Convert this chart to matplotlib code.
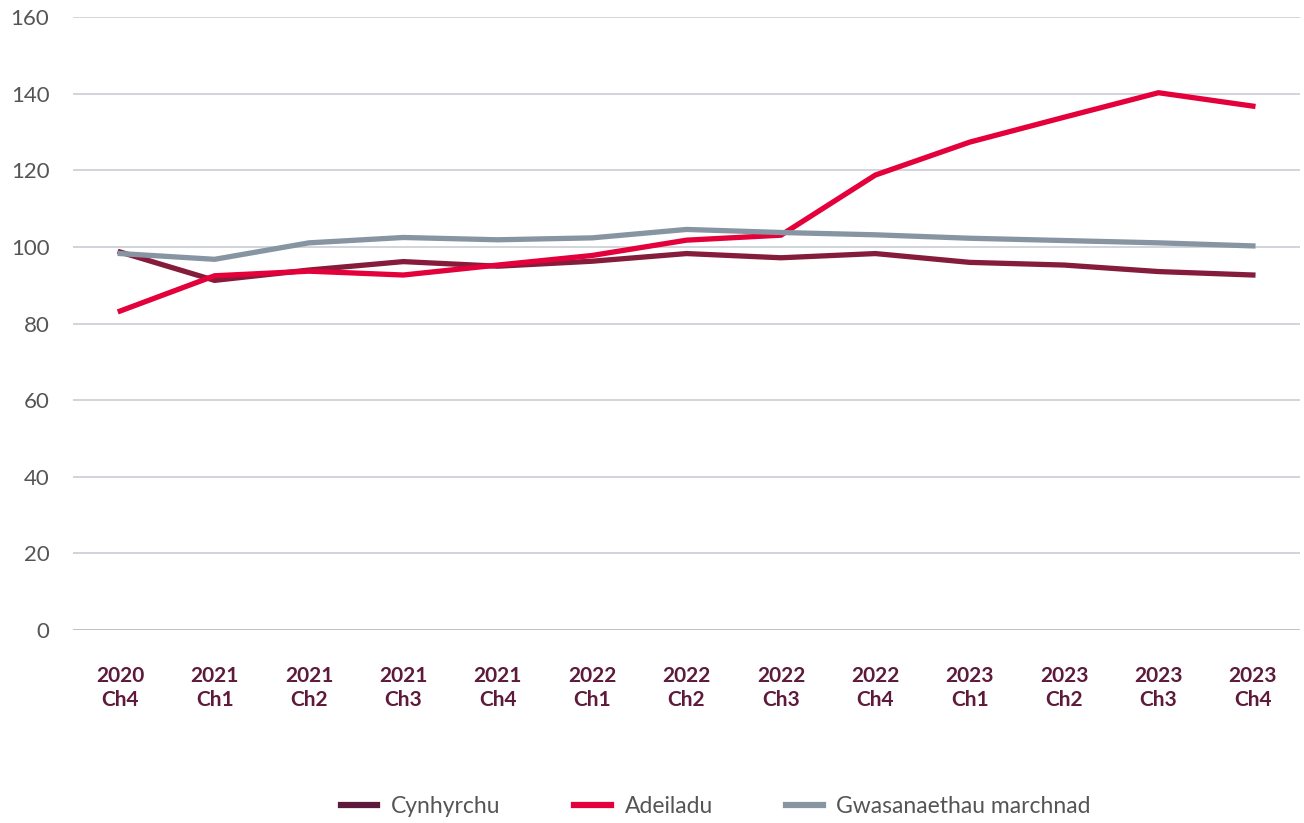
import matplotlib.pyplot as plt
import numpy as np

plt.rcParams['font.family'] = ['Lato', 'DejaVu Sans']

# quarters (Welsh: Ch = chwarter)
quarters = ['2020\nCh4', '2021\nCh1', '2021\nCh2', '2021\nCh3', '2021\nCh4',
            '2022\nCh1', '2022\nCh2', '2022\nCh3', '2022\nCh4',
            '2023\nCh1', '2023\nCh2', '2023\nCh3', '2023\nCh4']

cynhyrchu = [98.7, 91.3, 94.0, 96.2, 95.0, 96.3, 98.3, 97.2, 98.3, 96.0, 95.3, 93.6, 92.7]
adeiladu = [83.3, 92.5, 93.7, 92.7, 95.3, 97.8, 101.8, 103.1, 118.8, 127.4, 133.9, 140.3, 136.8]
gwasanaethau = [98.3, 96.8, 101.1, 102.5, 101.9, 102.4, 104.6, 103.8, 103.2, 102.3, 101.7, 101.1, 100.3]

series = [
    ('Cynhyrchu', cynhyrchu, '#861c3c', '#5e1a3a'),
    ('Adeiladu', adeiladu, '#e4003b', '#e4003b'),
    ('Gwasanaethau marchnad', gwasanaethau, '#8795a2', '#8795a2'),
]

fig = plt.figure(figsize=(13.04, 8.23), dpi=100)
ax = fig.add_axes([0.056, 0.2345, 0.941, 0.7445])

x = np.arange(len(quarters))
handles = []
for name, vals, col, legcol in series:
    ax.plot(x, vals, color=col, lw=3.8, solid_joinstyle='miter', zorder=3)
    h, = ax.plot([], [], color=legcol, lw=4.5, label=name)
    handles.append(h)

ax.set_xlim(-0.5, len(quarters) - 0.5)
ax.set_ylim(0, 160)
ax.set_yticks(np.arange(0, 161, 20))
ax.grid(axis='y', color='#c5c9d1', lw=1.1, zorder=0)
ax.axhline(0, color='#a3abb3', lw=1.3, zorder=1)

for s in ax.spines.values():
    s.set_visible(False)

ax.set_xticks(x)
ax.set_xticklabels(quarters, fontsize=15, fontweight='bold', color='#5e1a3a',
                   linespacing=1.25)
ax.tick_params(axis='x', length=0, pad=26)
ax.tick_params(axis='y', length=0, pad=17, labelsize=16, labelcolor='#555555')

leg = fig.legend(handles=handles, loc='center', bbox_to_anchor=(0.549, 0.02),
                 ncol=3, frameon=False, fontsize=16.5, handlelength=1.6,
                 columnspacing=3.2, handletextpad=0.6)
for t in leg.get_texts():
    t.set_color('#555555')

fig.savefig('out.png', dpi=100)
